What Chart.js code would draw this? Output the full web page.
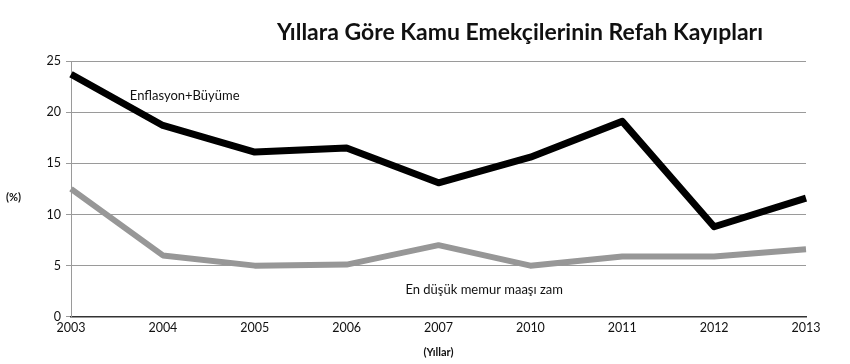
<!DOCTYPE html>
<html>
<head>
<meta charset="utf-8">
<script src="https://cdn.jsdelivr.net/npm/chart.js@4/dist/chart.umd.min.js"></script>
<style>
    html, body { margin: 0; padding: 0; background: #fff; }
    #wrap { width: 850px; height: 364px; position: relative; }
</style>
</head>
<body>
<div id="wrap"><canvas id="chart"></canvas></div>
<script>
// Yıllar (kategoriler)
const YEARS = ['2003', '2004', '2005', '2006', '2007', '2010', '2011', '2012', '2013'];
// Enflasyon+Büyüme (%)
const INFLATION_GROWTH = [23.7, 18.7, 16.1, 16.5, 13.1, 15.6, 19.1, 8.8, 11.6];
// En düşük memur maaşı zam (%)
const MIN_RAISE = [12.5, 6.0, 5.0, 5.1, 7.0, 5.0, 5.9, 5.9, 6.6];
const Y_TICKS = [0, 5, 10, 15, 20, 25];

const TITLE = 'Yıllara Göre Kamu Emekçilerinin Refah Kayıpları';
const FONT = 'Lato, "Open Sans", sans-serif';

// titles and in-chart series labels
const textPlugin = {
    id: 'texts',
    afterDraw(chart) {
        const ctx = chart.ctx;
        const x = chart.scales.x;
        const y = chart.scales.y;
        ctx.save();
        ctx.fillStyle = '#111';
        ctx.textBaseline = 'middle';

        ctx.font = 'bold 23px ' + FONT;
        ctx.textAlign = 'center';
        ctx.fillText(TITLE, 520, 33, 512);

        ctx.font = 'bold 11px ' + FONT;
        ctx.textAlign = 'left';
        ctx.fillText('(%)', 6, 197);

        ctx.font = '13px ' + FONT;
        ctx.fillText('Enflasyon+Büyüme', x.getPixelForValue(0.64), y.getPixelForValue(21.6));
        ctx.fillText('En düşük memur maaşı zam', x.getPixelForValue(3.64), y.getPixelForValue(2.6));
        ctx.restore();
    }
};

const ctx = document.getElementById('chart');

new Chart(ctx, {
    type: 'line',
    data: {
        labels: YEARS,
        datasets: [{
            label: 'Enflasyon+Büyüme',
            data: INFLATION_GROWTH,
            borderColor: '#000',
            borderWidth: 7,
            pointRadius: 0,
            tension: 0,
            borderJoinStyle: 'round'
        }, {
            label: 'En düşük memur maaşı zam',
            data: MIN_RAISE,
            borderColor: '#979797',
            borderWidth: 6,
            pointRadius: 0,
            tension: 0,
            borderJoinStyle: 'round'
        }]
    },
    options: {
        responsive: true,
        maintainAspectRatio: false,
        animation: false,
        layout: {
            padding: { top: 61, right: 44, left: 0, bottom: 5 }
        },
        plugins: {
            legend: { display: false },
            title: { display: false },
            tooltip: { enabled: false }
        },
        scales: {
            x: {
                offset: false,
                grid: {
                    drawOnChartArea: false,
                    drawTicks: false
                },
                border: { color: '#333', width: 1.5 },
                ticks: {
                    color: '#111',
                    font: { family: FONT, size: 12.5 },
                    padding: 4,
                    maxRotation: 0,
                    autoSkip: false
                },
                title: {
                    display: true,
                    text: '(Yıllar)',
                    color: '#111',
                    font: { family: FONT, size: 11, weight: 'bold' },
                    padding: { top: 6, bottom: 0 }
                }
            },
            y: {
                min: 0,
                max: 25,
                afterBuildTicks(scale) {
                    scale.ticks = Y_TICKS.map(v => ({ value: v }));
                },
                afterFit(scale) {
                    scale.width = 71;
                },
                grid: {
                    color: '#9a9a9a',
                    tickLength: 5,
                    lineWidth: 1
                },
                border: { color: '#9a9a9a' },
                ticks: {
                    color: '#111',
                    font: { family: FONT, size: 12.5 },
                    padding: 5
                }
            }
        }
    },
    plugins: [textPlugin]
});
</script>
</body>
</html>
